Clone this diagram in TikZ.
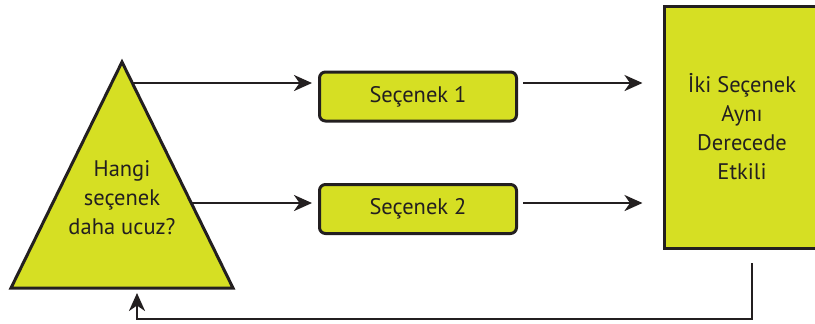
\documentclass[tikz,border=0pt]{standalone}
\usepackage{fontspec}
\setmainfont{PT Sans}
\usetikzlibrary{arrows.meta,calc}
\definecolor{lime}{HTML}{D6DF23}
\definecolor{ink}{HTML}{231F20}
\begin{document}
\begin{tikzpicture}[x=1pt,y=-1pt,
  shapebox/.style={draw=ink, fill=lime, line width=3pt},
  optbox/.style={shapebox, rounded corners=6pt, minimum width=197pt, minimum height=49pt, inner sep=0pt},
  lbl/.style={font=\fontsize{22.5}{29}\selectfont, text=ink, align=center},
  arr/.style={draw=ink, line width=2.6pt, -{Stealth[length=18pt,width=16pt,inset=5.5pt]}}]
\useasboundingbox (0,0) rectangle (815,324);
\coordinate (apex) at (122,62);
\coordinate (bl) at (11,288);
\coordinate (br) at (233,288);
\filldraw[shapebox, line join=miter] (apex) -- (bl) -- (br) -- cycle;
\node[lbl] (q) at (122,198) {Hangi\\seçenek\\daha ucuz?};
\node[optbox, lbl] (s1) at (418,96.5) {Seçenek 1};
\node[optbox, lbl] (s2) at (418,209) {Seçenek 2};
\node[shapebox, lbl, minimum width=156pt, minimum height=242pt] (res) at (742,127) {İki Seçenek\\Aynı\\Derecede\\Etkili};
\coordinate (t1) at ($(apex)!0.093!(br)$);
\coordinate (t2) at ($(apex)!0.624!(br)$);
\draw[arr, shorten >=6pt] (t1) -- (t1 -| s1.west);
\draw[arr, shorten >=6pt] (t2) -- (t2 -| s2.west);
\draw[arr, shorten <=5pt, shorten >=20pt] (t1 -| s1.east) -- (t1 -| res.west);
\draw[arr, shorten <=5pt, shorten >=20pt] (t2 -| s2.east) -- (t2 -| res.west);
\coordinate (fb) at (752,263);
\coordinate (fbend) at (137,293);
\draw[arr] (fb) -- ++(0,56) -| (fbend);
\end{tikzpicture}
\end{document}
